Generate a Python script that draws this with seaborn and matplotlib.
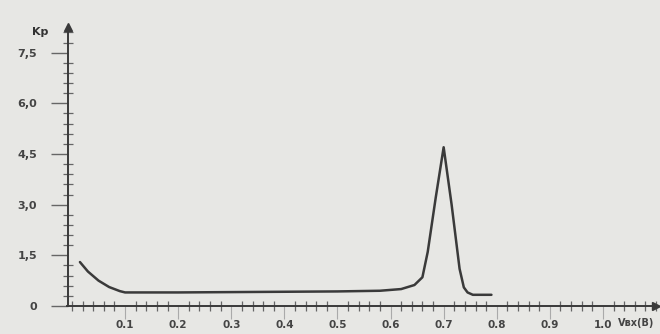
import matplotlib
matplotlib.use("Agg")
import matplotlib.pyplot as plt
import seaborn as sns
import numpy as np
import pandas as pd
from matplotlib.ticker import MultipleLocator, FixedLocator

# data
v_in = [0.015, 0.03, 0.05, 0.07, 0.09, 0.10, 0.20, 0.30, 0.40, 0.50, 0.58, 0.62,
        0.645, 0.66, 0.67, 0.685, 0.70, 0.715, 0.730, 0.738, 0.745, 0.755, 0.79]
k_p = [1.30, 1.02, 0.75, 0.56, 0.44, 0.40, 0.40, 0.41, 0.42, 0.43, 0.45, 0.50,
       0.62, 0.85, 1.6, 3.2, 4.7, 3.0, 1.1, 0.55, 0.40, 0.33, 0.33]
y_ticks = [0, 1.5, 3.0, 4.5, 6.0, 7.5]
y_labels = ["0", "1,5", "3,0", "4,5", "6,0", "7,5"]
x_ticks = [0.1, 0.2, 0.3, 0.4, 0.5, 0.6, 0.7, 0.8, 0.9, 1.0]
x_labels = ["0.1", "0.2", "0.3", "0.4", "0.5", "0.6", "0.7", "0.8", "0.9", "1.0"]

sns.set_style("white")
plt.rcParams['font.family'] = ['DejaVu Sans']

bg = "#e7e7e4"
ink = "#3a3a3a"
fig = plt.figure(figsize=(6.6, 3.34), dpi=100, facecolor=bg)
ax = fig.add_axes([0.101, 0.084, 0.893, 0.834])
ax.set_facecolor(bg)

df = pd.DataFrame({"V": v_in, "K": k_p})
sns.lineplot(data=df, x="V", y="K", ax=ax, color=ink, linewidth=1.8, sort=False)

ax.set_xlim(-0.01, 1.10)
ax.set_ylim(0, 8.25)
for s in ["top", "right"]:
    ax.spines[s].set_visible(False)
for s in ["left", "bottom"]:
    ax.spines[s].set_color(ink)
    ax.spines[s].set_linewidth(1.4)
ax.spines["left"].set_position(("data", -0.008))
ax.spines["bottom"].set_position(("data", 0))

# arrows
ax.plot(1.0, 0, ">", transform=ax.transAxes, color=ink, markersize=6, clip_on=False)
ax.plot(-0.008, 1.0, "^", transform=ax.get_xaxis_transform(), color=ink,
        markersize=6, clip_on=False)

ax.yaxis.set_major_locator(FixedLocator(y_ticks))
ax.set_yticklabels(y_labels)
ax.yaxis.set_minor_locator(MultipleLocator(0.3))
ax.xaxis.set_major_locator(FixedLocator(x_ticks))
ax.set_xticklabels(x_labels)
ax.xaxis.set_minor_locator(MultipleLocator(0.02))

ax.tick_params(axis="both", which="both", bottom=True, left=True)
ax.tick_params(axis="y", which="major", direction="out", length=12, width=1.0,
               color="#666666", labelsize=8, labelcolor="#444444", pad=10)
ax.tick_params(axis="y", which="minor", direction="inout", length=7, width=0.9, color="#666666")
ax.tick_params(axis="x", which="major", direction="out", length=9, width=0.8,
               color="#aaaaaa", labelsize=7.5, labelcolor="#444444", pad=1)
ax.tick_params(axis="x", which="minor", direction="inout", length=7, width=0.9, color="#666666")
for lab in ax.get_xticklabels() + ax.get_yticklabels():
    lab.set_fontweight("bold")

ax.set_xlabel("")
ax.set_ylabel("")
ax.text(-0.045, 8.1, "Kр", ha="right", va="center", fontsize=8, color="#333333",
        fontweight="bold", clip_on=False)
ax.text(1.062, -0.35, "Vвх(В)", ha="center", va="top", fontsize=7, color="#444444",
        fontweight="bold", clip_on=False)

fig.savefig("out.png", dpi=100, facecolor=bg)
